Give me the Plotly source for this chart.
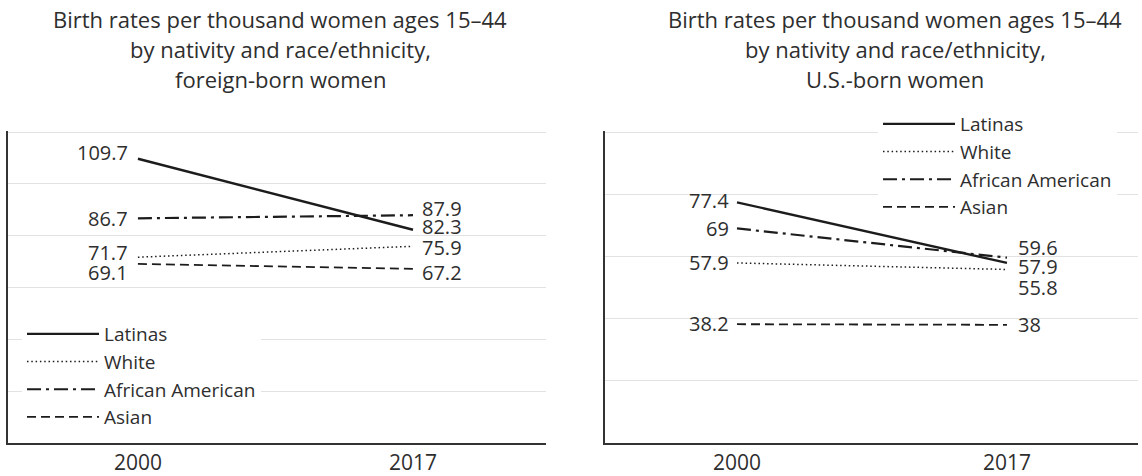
import plotly.graph_objects as go

# Survey years and racial/ethnic groups
years = [2000, 2017]
groups = ["Latinas", "White", "African American", "Asian"]

# Births per 1,000 women ages 15-44, foreign-born women
fb_latinas = [109.7, 82.3]
fb_white = [71.7, 75.9]
fb_african_american = [86.7, 87.9]
fb_asian = [69.1, 67.2]

# Births per 1,000 women ages 15-44, U.S.-born women
us_latinas = [77.4, 57.9]
us_white = [57.9, 55.8]
us_african_american = [69.0, 59.6]
us_asian = [38.2, 38.0]

titles = [
    ["Birth rates per thousand women ages 15\u201344",
     "by nativity and race/ethnicity,",
     "foreign-born women"],
    ["Birth rates per thousand women ages 15\u201344",
     "by nativity and race/ethnicity,",
     "U.S.-born women"],
]

FONT = "Open Sans"
TEXT = "#2e2e2e"
INK = "#1c1c1c"
GRID = "#e2e2e2"
W, H = 1142, 476
TOP, BOTTOM = 131, 33

styles = {
    "Latinas": dict(width=2.4, dash="solid"),
    "White": dict(width=1.5, dash="1.5px,2.8px"),
    "African American": dict(width=2.2, dash="14px,5px,3px,5px"),
    "Asian": dict(width=1.8, dash="9px,5px"),
}

# vertical nudges (px, up is positive) that keep crowded value labels apart
nudges = [
    {"Latinas": (6, 3), "White": (5, -1), "African American": (0, 7), "Asian": (-9, -4)},
    {"Latinas": (2, -4), "White": (0, -18), "African American": (0, 10), "Asian": (1, 0)},
]

panels = [
    dict(series=[fb_latinas, fb_white, fb_african_american, fb_asian],
         xdomain=[8 / W, 546 / W], xrange=[1991.97, 2025.22], yrange=[0, 120.4],
         xshift=(-8, 7), title_x=280 / W, legend="legend"),
    dict(series=[us_latinas, us_white, us_african_american, us_asian],
         xdomain=[605 / W, 1138 / W], xrange=[1991.69, 2025.25], yrange=[0, 100.33],
         xshift=(-6, 9), title_x=895 / W, legend="legend2"),
]

fig = go.Figure()
annotations = []
plot_h = H - TOP - BOTTOM

for p, panel in enumerate(panels):
    xa = "x" if p == 0 else "x2"
    ya = "y" if p == 0 else "y2"
    for name, vals in zip(groups, panel["series"]):
        fig.add_trace(go.Scatter(
            x=years, y=vals, name=name, mode="lines",
            line=dict(color=INK, **styles[name]),
            xaxis=xa, yaxis=ya, legend=panel["legend"],
            legendgroup=f"{panel['legend']}-{name}",
            hoverinfo="skip",
        ))
        for i, (yr, v) in enumerate(zip(years, vals)):
            annotations.append(dict(
                x=yr, y=v, xref=xa, yref=ya, text=f"{v:g}", showarrow=False,
                xanchor="right" if i == 0 else "left", yanchor="middle",
                xshift=panel["xshift"][i], yshift=nudges[p][name][i],
                font=dict(family=FONT, size=20, color=TEXT),
            ))
    for k, line in enumerate(titles[p]):
        y_px = 19 + k * 30
        annotations.append(dict(
            x=panel["title_x"], y=(H - BOTTOM - y_px) / plot_h,
            xref="paper", yref="paper", text=line, showarrow=False,
            xanchor="center", yanchor="middle",
            font=dict(family=FONT, size=22, color=TEXT),
        ))

axis_common = dict(showline=True, linecolor="#333333", linewidth=2, zeroline=False,
                   ticks="", fixedrange=True)

for p, panel in enumerate(panels):
    sx = "" if p == 0 else "2"
    fig.update_layout(**{
        f"xaxis{sx}": dict(axis_common, domain=panel["xdomain"], range=panel["xrange"],
                           tickvals=years, ticktext=[str(y) for y in years],
                           showgrid=False, anchor=f"y{sx}",
                           tickfont=dict(family=FONT, size=21, color=TEXT)),
        f"yaxis{sx}": dict(axis_common, range=panel["yrange"], dtick=20,
                           showgrid=True, gridcolor=GRID, gridwidth=1.2,
                           showticklabels=False, anchor=f"x{sx}"),
    })

legend_common = dict(bgcolor="white", borderwidth=0, traceorder="grouped",
                     tracegroupgap=0, xanchor="left", yanchor="top", itemwidth=72,
                     font=dict(family=FONT, size=19, color=TEXT), itemclick=False)

fig.update_layout(
    width=W, height=H,
    margin=dict(l=0, r=0, t=TOP, b=BOTTOM),
    paper_bgcolor="white", plot_bgcolor="white",
    showlegend=True,
    legend=dict(legend_common, x=22 / W, y=(H - BOTTOM - 315) / plot_h, entrywidth=190),
    legend2=dict(legend_common, x=878 / W, y=(H - BOTTOM - 105) / plot_h),
    annotations=annotations,
)

fig.write_html("out.html")
